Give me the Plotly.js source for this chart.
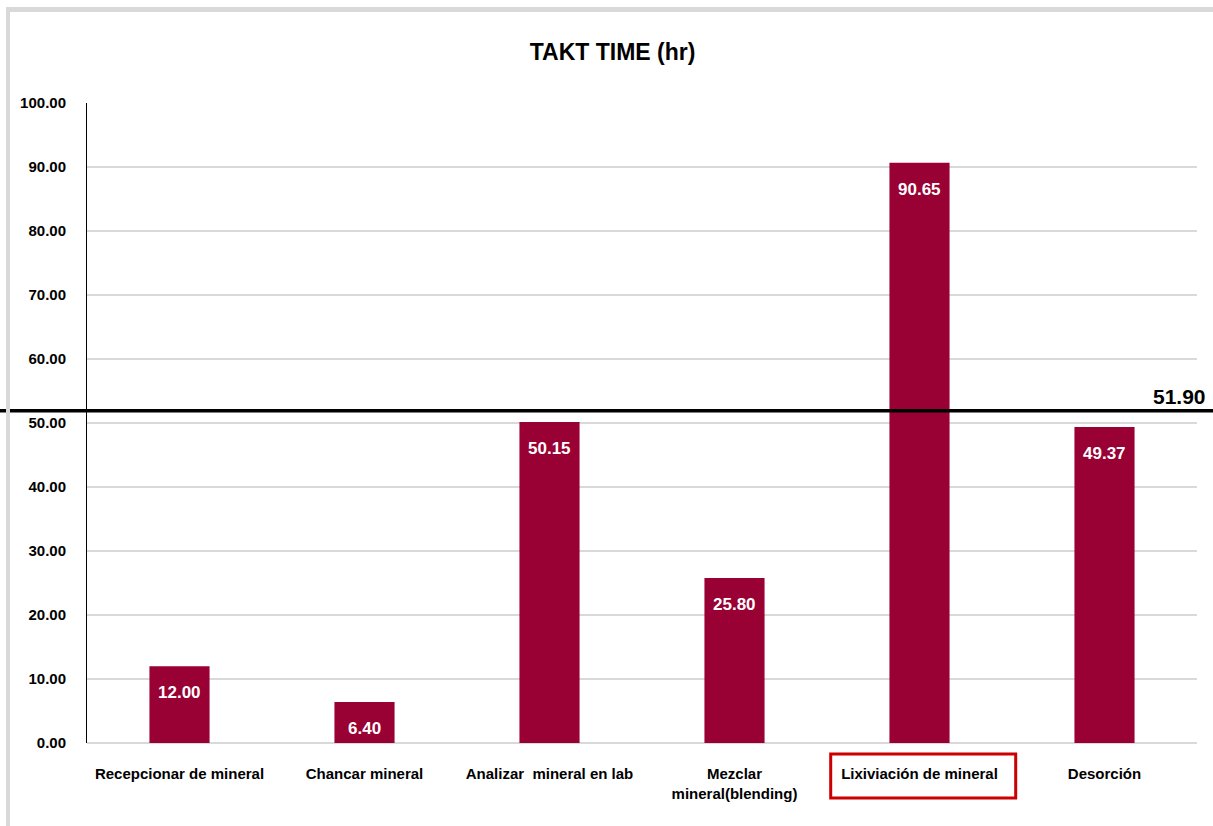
<!DOCTYPE html>
<html>
<head>
<meta charset="utf-8">
<script src="https://cdn.plot.ly/plotly-3.0.1.min.js"></script>
<style>
  html, body { margin: 0; padding: 0; background: #ffffff; }
  #frame { position: absolute; left: 0; top: 0; width: 1213px; height: 826px; overflow: hidden; }
  #chart { position: absolute; left: 0; top: 0; width: 1213px; height: 826px; }
  #bt { position: absolute; left: 6px; top: 7px; width: 1207px; height: 5px; background: #d9d9d9; }
  #bl { position: absolute; left: 6px; top: 7px; width: 4px; height: 819px; background: #d9d9d9; }
</style>
</head>
<body>
<div id="frame">
  <div id="chart"></div>
  <div id="bt"></div>
  <div id="bl"></div>
</div>
<script>
const categories = [
  "Recepcionar de mineral",
  "Chancar mineral",
  "Analizar  mineral en lab",
  "Mezclar<br>mineral(blending)",
  "Lixiviación de mineral",
  "Desorción"
];
const taktValues = [12.00, 6.40, 50.15, 25.80, 90.65, 49.37];
const taktTime = 51.90;
const highlightedCategory = "Lixiviación de mineral";
const yTicks = [0, 10, 20, 30, 40, 50, 60, 70, 80, 90, 100];

const FONT = "'Liberation Sans', Arial, sans-serif";
const barColor = "#990033";

const trace = {
  type: "bar",
  x: categories,
  y: taktValues,
  marker: { color: barColor },
  hoverinfo: "x+y",
  cliponaxis: false
};

const labelAnnotations = categories.map((c, i) => ({
  x: c, y: taktValues[i], xref: "x", yref: "y",
  text: taktValues[i].toFixed(2),
  showarrow: false, yanchor: "top", yshift: -15,
  font: { family: FONT, size: 17, color: "#ffffff", weight: "bold" }
}));

const hi = categories.indexOf(highlightedCategory);

const layout = {
  width: 1213, height: 826,
  margin: { l: 87, r: 16, t: 103, b: 83 },
  paper_bgcolor: "rgba(0,0,0,0)",
  plot_bgcolor: "#ffffff",
  showlegend: false,
  bargap: 0.675,
  title: {
    text: "<b>TAKT TIME (hr)</b>",
    x: 0.505, xref: "container", xanchor: "center",
    y: 0.937, yref: "container", yanchor: "middle",
    font: { family: FONT, size: 23, color: "#000000" }
  },
  xaxis: {
    type: "category",
    tickfont: { family: FONT, size: 15, color: "#000000", weight: "bold" },
    showline: false, showgrid: false, zeroline: false,
    ticks: "", ticklen: 0, ticklabelstandoff: 20
  },
  yaxis: {
    range: [0, 100],
    tickvals: yTicks,
    tickformat: ".2f",
    tickfont: { family: FONT, size: 15, color: "#000000", weight: "bold" },
    showgrid: true, gridcolor: "#d9d9d9", gridwidth: 1.5,
    zeroline: true, zerolinecolor: "#d9d9d9", zerolinewidth: 1.5,
    showline: true, linecolor: "#000000", linewidth: 1,
    ticks: "", ticklabelstandoff: 17
  },
  shapes: [
    {
      type: "line", xref: "paper", yref: "y",
      x0: -0.08, x1: 1.02, y0: taktTime, y1: taktTime,
      line: { color: "#000000", width: 3.5 }
    },
    {
      type: "rect", xref: "x", yref: "paper",
      x0: hi - 0.48, x1: hi + 0.52, y0: -0.086, y1: -0.017,
      line: { color: "#cc0000", width: 3 }, fillcolor: "rgba(0,0,0,0)"
    }
  ],
  annotations: labelAnnotations.concat([{
    xref: "paper", yref: "y", x: 1.01, y: taktTime,
    xanchor: "right", yanchor: "bottom", yshift: 1,
    text: taktTime.toFixed(2), showarrow: false,
    font: { family: FONT, size: 21, color: "#000000", weight: "bold" }
  }])
};

Plotly.newPlot("chart", [trace], layout, { displayModeBar: false, staticPlot: false });
</script>
</body>
</html>
